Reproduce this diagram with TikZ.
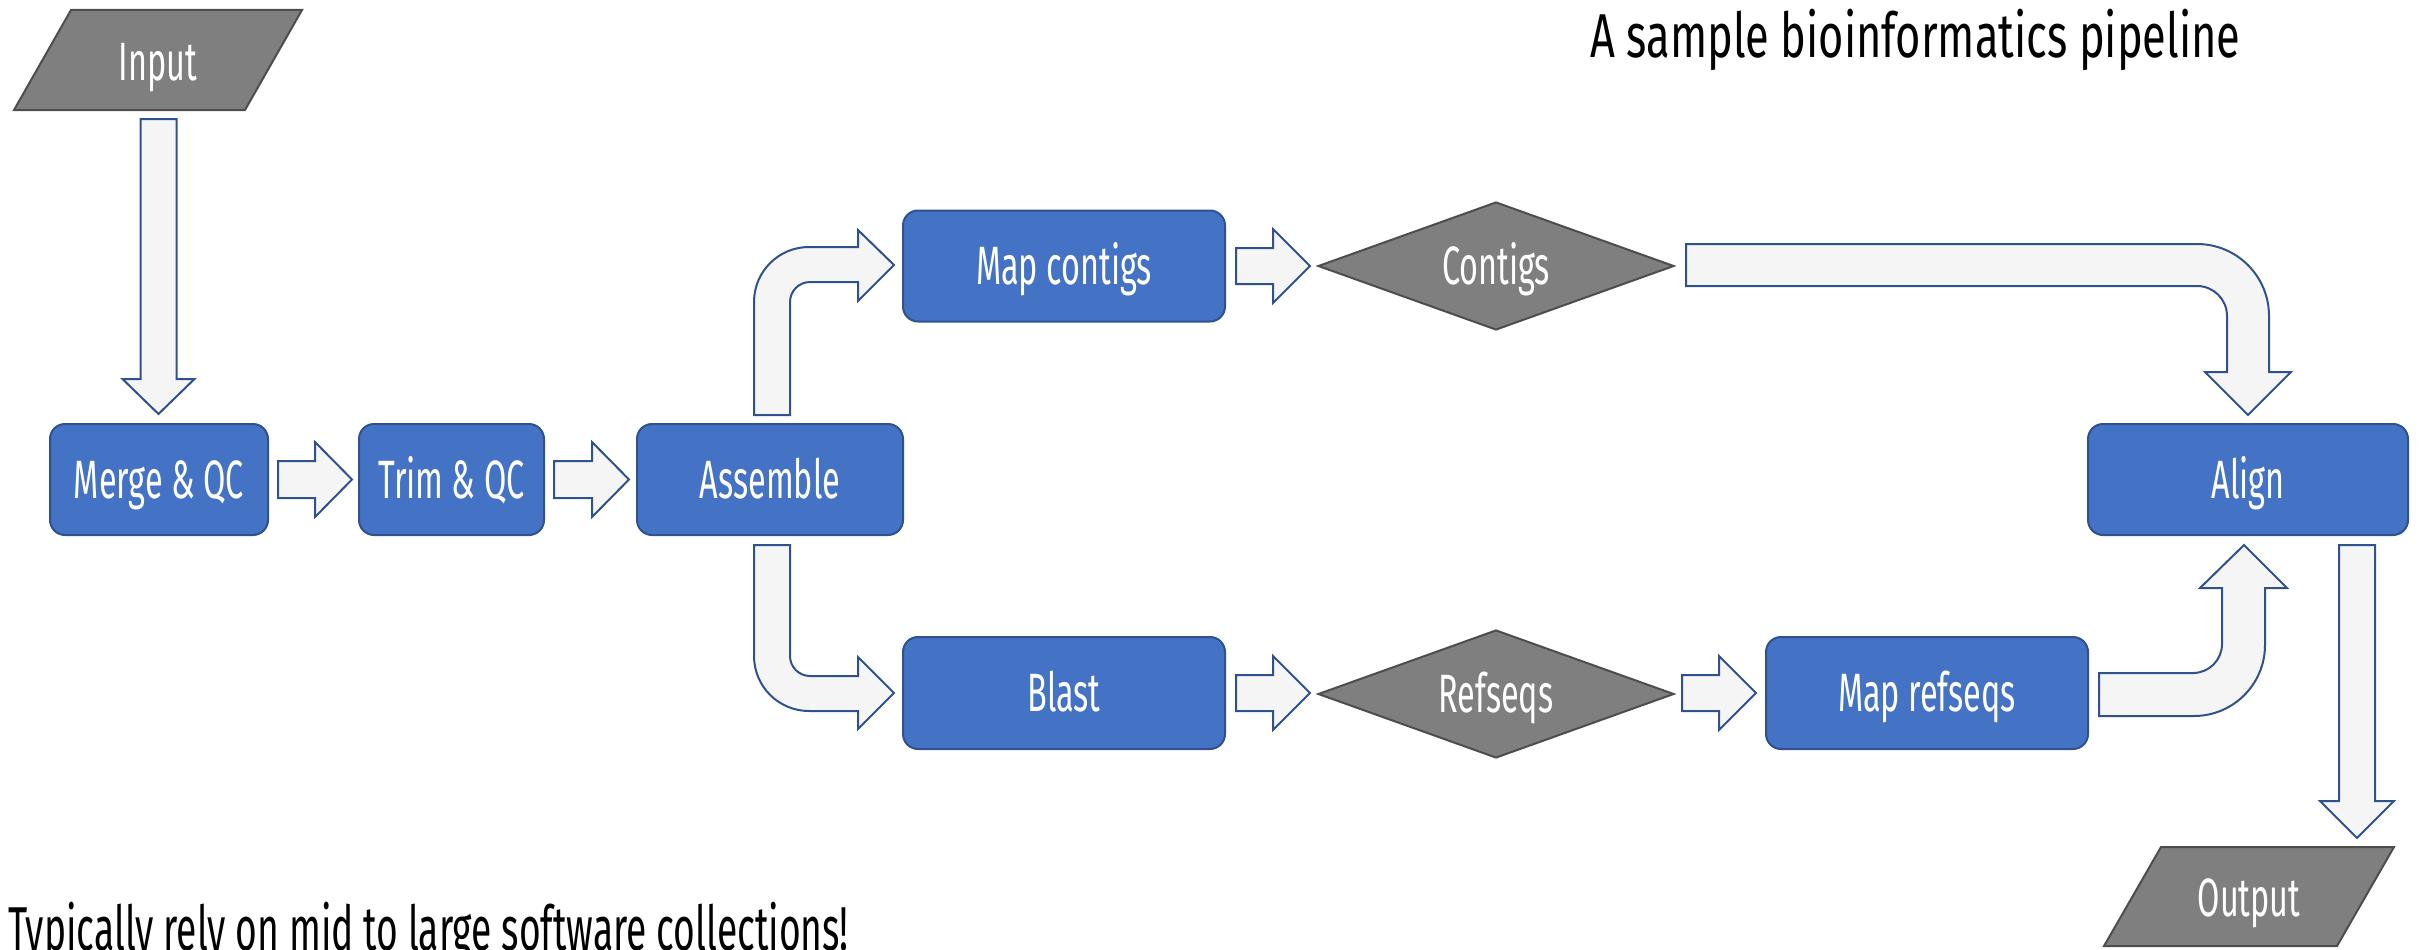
\documentclass[tikz,border=0pt]{standalone}
\usepackage{fontspec}
\setmainfont{Fira Sans}[FakeStretch=0.6]
\newfontfamily\titlefont{Fira Sans}[FakeStretch=0.7]
\usetikzlibrary{shapes.geometric}
\definecolor{boxfill}{HTML}{4472C4}
\definecolor{boxline}{HTML}{2F528F}
\definecolor{arrowfill}{HTML}{F5F5F5}
\definecolor{grayfill}{HTML}{7F7F7F}
\definecolor{grayline}{HTML}{4D4D4D}
\begin{document}
\begin{tikzpicture}[x=1pt,y=-1pt,
  proc/.style={rectangle, rounded corners=15pt, draw=boxline, line width=2pt, fill=boxfill,
    text=white, font=\fontsize{54}{60}\selectfont, inner sep=0pt,
    text height=37pt, text depth=0pt},
  decision/.style={diamond, aspect=2.78, draw=grayline, fill=grayfill, line width=2pt,
    text=white, font=\fontsize{54}{60}\selectfont, inner sep=0pt,
    text height=37pt, text depth=0pt,
    minimum width=356pt, minimum height=128pt},
  io/.style={draw=grayline, fill=grayfill, line width=2pt, line join=miter},
  iolabel/.style={text=white, font=\fontsize{54}{60}\selectfont, inner sep=0pt,
    text height=37pt, text depth=0pt},
  barrow/.style={draw=boxline, fill=arrowfill, line width=2pt, line join=miter},
  caption/.style={text=black, font=\fontsize{62}{70}\selectfont, inner sep=0pt, anchor=base west}]
\useasboundingbox (0,0) rectangle (2420,950);

% process boxes
\node[proc, minimum width=218pt, minimum height=111pt] (merge) at (159,479.5) {Merge \& QC};
\node[proc, minimum width=185pt, minimum height=111pt] (trim) at (451.5,479.5) {Trim \& QC};
\node[proc, minimum width=266pt, minimum height=111pt] (assemble) at (770,479.5) {Assemble};
\node[proc, minimum width=322pt, minimum height=111pt] (mapc) at (1064,266) {Map contigs};
\node[proc, minimum width=322pt, minimum height=112pt] (blast) at (1064,693) {Blast};
\node[proc, minimum width=322pt, minimum height=112pt] (mapr) at (1927,693) {Map refseqs};
\node[proc, minimum width=320pt, minimum height=111pt] (align) at (2248,479.5) {Align};

% decisions
\node[decision] (contigs) at (1496,266) {Contigs};
\node[decision] (refseqs) at (1496,694) {Refseqs};

% input / output
\filldraw[io] (14,110) -- (245,110) -- (302,10) -- (71,10) -- cycle;
\node[iolabel] (input) at (158,62) {Input};
\filldraw[io] (2104,946) -- (2337,946) -- (2394,847) -- (2161,847) -- cycle;
\node[iolabel] (output) at (2249,898) {Output};

% straight block arrows
% input -> merge (down)
\draw[barrow] (140.5,119) -- (176.5,119) -- (176.5,379) -- (194.5,379) -- (158.5,414)
  -- (122.5,379) -- (140.5,379) -- cycle;
% merge -> trim
\draw[barrow] (278,461) -- (315,461) -- (315,442) -- (352,479.5) -- (315,517) -- (315,498)
  -- (278,498) -- cycle;
% trim -> assemble
\draw[barrow] (554,461) -- (592,461) -- (592,442) -- (629,479.5) -- (592,517) -- (592,498)
  -- (554,498) -- cycle;
% map contigs -> contigs
\draw[barrow] (1236,248) -- (1273,248) -- (1273,229) -- (1310,266) -- (1273,303) -- (1273,284)
  -- (1236,284) -- cycle;
% blast -> refseqs
\draw[barrow] (1236,675) -- (1273,675) -- (1273,656) -- (1310,693) -- (1273,730) -- (1273,711)
  -- (1236,711) -- cycle;
% refseqs -> map refseqs
\draw[barrow] (1682,675) -- (1719,675) -- (1719,656) -- (1756,693) -- (1719,730) -- (1719,711)
  -- (1682,711) -- cycle;
% align -> output (down)
\draw[barrow] (2339,545) -- (2375,545) -- (2375,801) -- (2394,801) -- (2357,838)
  -- (2320,801) -- (2339,801) -- cycle;

% bent block arrows
% assemble -> map contigs
\draw[barrow] (754,415) -- (754,302) .. controls (754,271.6) and (778.6,247) .. (809,247)
  -- (858,247) -- (858,230) -- (894,265) -- (858,301) -- (858,282) -- (810,282)
  .. controls (799,282) and (790,291) .. (790,302) -- (790,415) -- cycle;
% assemble -> blast
\draw[barrow] (754,545) -- (754,656) .. controls (754,686.4) and (778.6,711) .. (809,711)
  -- (858,711) -- (858,729) -- (894,693) -- (858,657) -- (858,676) -- (810,676)
  .. controls (799,676) and (790,667) .. (790,656) -- (790,545) -- cycle;
% contigs -> align
\draw[barrow] (1686,244) -- (2197,244) .. controls (2236.8,244) and (2269,276.2) .. (2269,316)
  -- (2269,372) -- (2291,372) -- (2248,415) -- (2205,372) -- (2227,372) -- (2227,316)
  .. controls (2227,299.4) and (2213.6,286) .. (2197,286) -- (1686,286) -- cycle;
% map refseqs -> align
\draw[barrow] (2099,716) -- (2194,716) .. controls (2233.2,716) and (2265,684.2) .. (2265,645)
  -- (2265,588) -- (2287,588) -- (2244,545) -- (2200,588) -- (2222,588) -- (2222,644)
  .. controls (2222,660) and (2209,673) .. (2193,673) -- (2099,673) -- cycle;

% captions
\node[caption, font=\titlefont\fontsize{62}{70}\selectfont] (title) at (1590,58) {A sample bioinformatics pipeline};
\node[caption] (note) at (8,950) {Typically rely on mid to large software collections!};
\end{tikzpicture}
\end{document}
